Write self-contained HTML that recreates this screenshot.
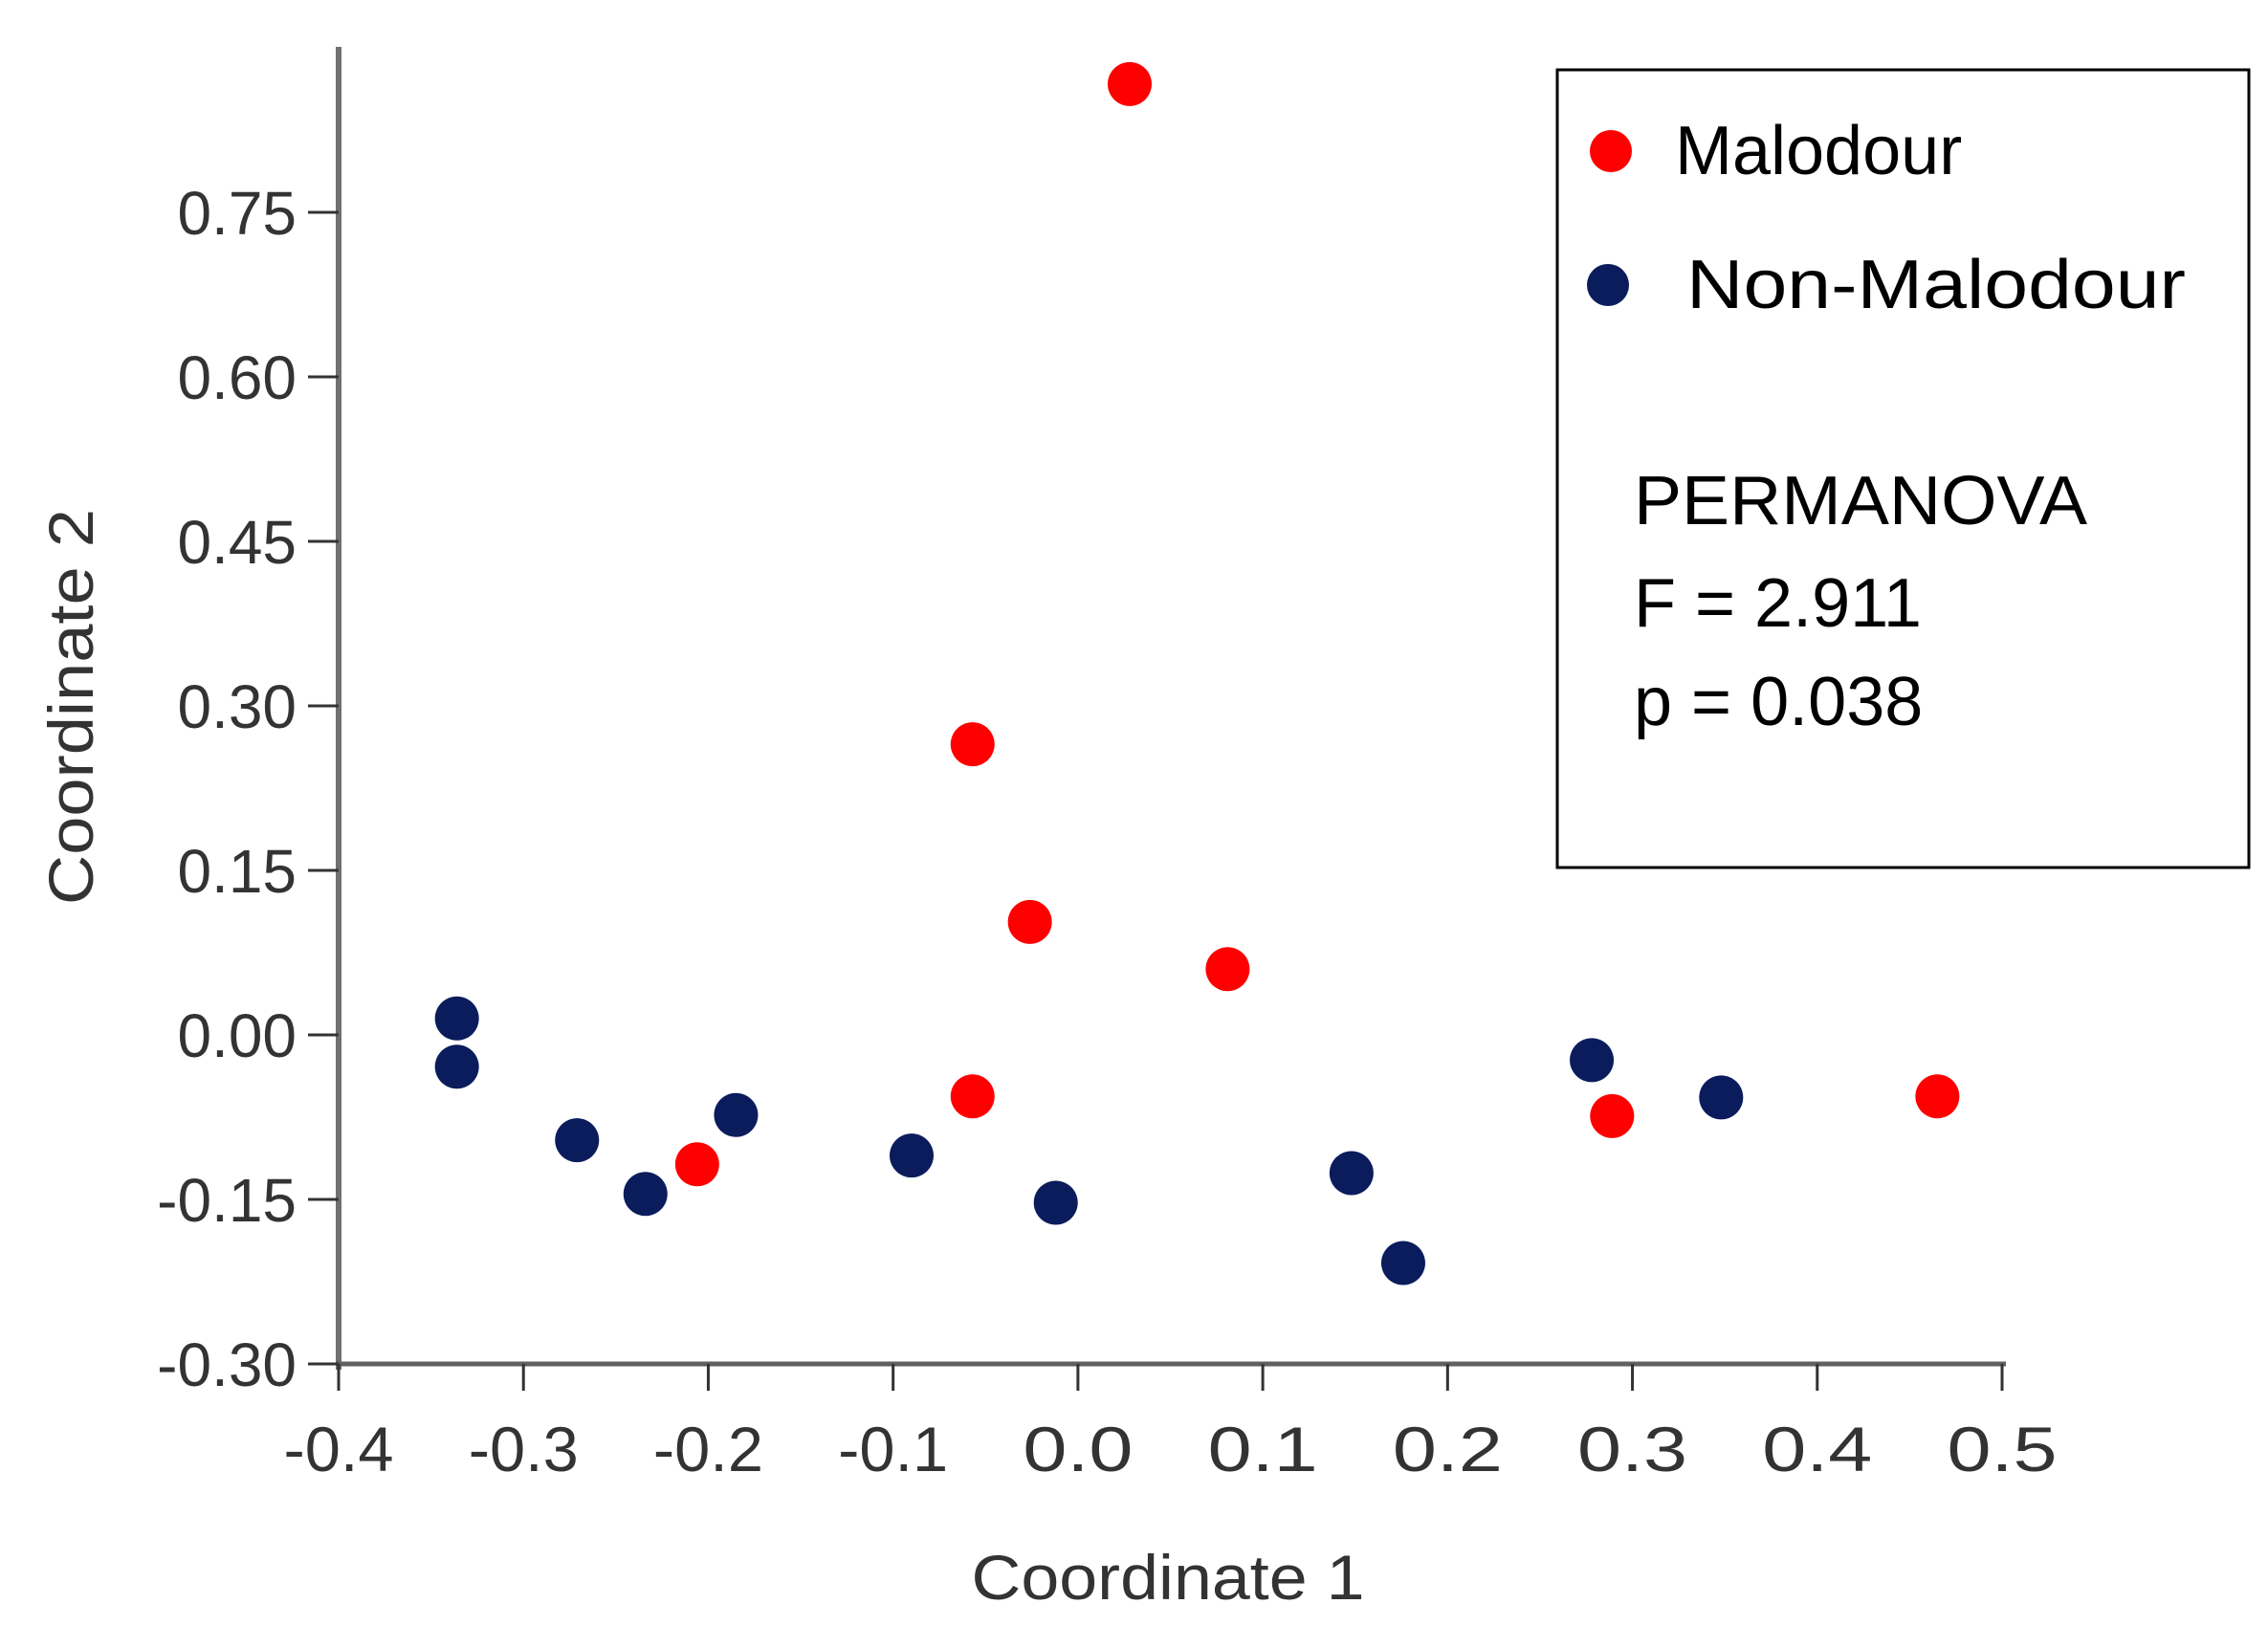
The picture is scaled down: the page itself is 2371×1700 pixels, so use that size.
<!DOCTYPE html>
<html><head><meta charset="utf-8"><style>
html,body{margin:0;padding:0;background:#fff;}
svg{display:block;font-family:"Liberation Sans",sans-serif;}
</style></head><body>
<svg id="chart" width="2371" height="1700" viewBox="0 0 2371 1700">
<g id="axes"></g>
<g id="points"></g>
<g id="legend">
  <rect x="1628" y="73" width="723" height="834" fill="#fff" stroke="#000" stroke-width="3"/>
  <circle cx="1684" cy="158" r="22" fill="#ff0000"/>
  <text x="1751" y="182" font-size="72" fill="#000">Malodour</text>
  <circle cx="1681" cy="298" r="22" fill="#0a1c5c"/>
  <text x="1763" y="322" font-size="72" fill="#000" textLength="522" lengthAdjust="spacingAndGlyphs">Non-Malodour</text>
  <text x="1708" y="548" font-size="72" fill="#000" textLength="474" lengthAdjust="spacingAndGlyphs">PERMANOVA</text>
  <text x="1708" y="655" font-size="72" fill="#000">F = 2.911</text>
  <text x="1708" y="758" font-size="72" fill="#000">p = 0.038</text>
</g>
</svg>
<script>
const xTicks = [-0.4,-0.3,-0.2,-0.1,0.0,0.1,0.2,0.3,0.4,0.5];
const xTickLabels = ["-0.4","-0.3","-0.2","-0.1","0.0","0.1","0.2","0.3","0.4","0.5"];
const yTicks = [0.75,0.60,0.45,0.30,0.15,0.00,-0.15,-0.30];
const yTickLabels = ["0.75","0.60","0.45","0.30","0.15","0.00","-0.15","-0.30"];
const malodourX = [0.028,-0.057,-0.026,0.081,-0.057,-0.206,0.289,0.465];
const malodourY = [0.867,0.265,0.103,0.060,-0.056,-0.118,-0.074,-0.056];
const nonMalodourX = [-0.336,-0.336,-0.271,-0.234,-0.185,-0.090,-0.012,0.148,0.176,0.278,0.348];
const nonMalodourY = [0.015,-0.029,-0.096,-0.145,-0.073,-0.110,-0.153,-0.126,-0.208,-0.023,-0.057];

const NS='http://www.w3.org/2000/svg';
function sx(v){return 354+(v+0.4)/0.9*(2093-354);}
function sy(v){return 1426-(v+0.3)/1.05*(1426-222);}
function mk(tag,attrs,parent){const e=document.createElementNS(NS,tag);for(const k in attrs)e.setAttribute(k,attrs[k]);parent.appendChild(e);return e;}
const axes=document.getElementById('axes');
const pts=document.getElementById('points');

let yl=mk('line',{x1:354,y1:49,x2:354,y2:1432,stroke:'#707070','stroke-width':6},axes);


let xl=mk('line',{x1:351,y1:1426,x2:2097,y2:1426,stroke:'#606060','stroke-width':5},axes);



yTicks.forEach((v,i)=>{
  const y=sy(v);
  const t=mk('line',{x1:322,y1:y,x2:354,y2:y,stroke:'#333','stroke-width':3},axes);
  
  
  const lab=mk('text',{x:310,y:y+23,'font-size':64,fill:'#333','text-anchor':'end'},axes);
  lab.textContent=yTickLabels[i];
  
  
});
xTicks.forEach((v,i)=>{
  const x=sx(v);
  const t=mk('line',{x1:x,y1:1426,x2:x,y2:1454,stroke:'#333','stroke-width':3},axes);
  
  
  const lab=mk('text',{x:x,y:1538,'font-size':66,fill:'#333','text-anchor':'middle',textLength:115,lengthAdjust:'spacingAndGlyphs'},axes);
  lab.textContent=xTickLabels[i];
  
  
});
const xt=mk('text',{x:1221,y:1672,'font-size':66,fill:'#333','text-anchor':'middle',textLength:411,lengthAdjust:'spacingAndGlyphs'},axes);
xt.textContent='Coordinate 1';


const yt=mk('text',{x:0,y:0,'font-size':66,fill:'#333','text-anchor':'middle',textLength:414,lengthAdjust:'spacingAndGlyphs',transform:'translate(97,739) rotate(-90)'},axes);
yt.textContent='Coordinate 2';



malodourX.forEach((v,i)=>{
  const c=mk('circle',{cx:sx(v),cy:sy(malodourY[i]),r:23,fill:'#ff0000'},pts);
  
  
});
nonMalodourX.forEach((v,i)=>{
  const c=mk('circle',{cx:sx(v),cy:sy(nonMalodourY[i]),r:23,fill:'#0a1c5c'},pts);
  
  
});
</script>
</body></html>
